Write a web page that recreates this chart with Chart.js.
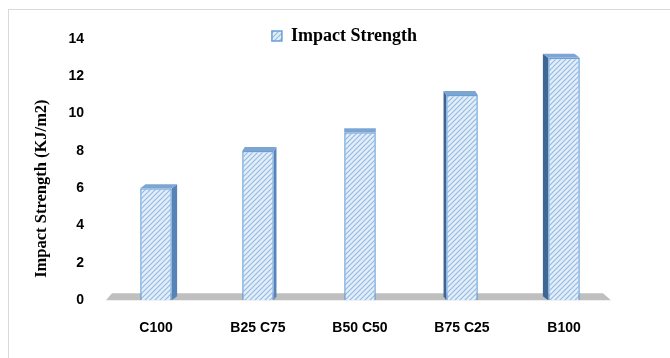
<!DOCTYPE html>
<html>
<head>
<meta charset="utf-8">
<script src="https://cdn.jsdelivr.net/npm/chart.js@4"></script>
<style>
  html, body { margin: 0; padding: 0; background: #fff; overflow: hidden; }
  #frame { position: absolute; left: 8px; top: 9px; width: 700px; height: 400px; border: 1px solid #d9d9d9; }
  #wrap { position: absolute; left: 0; top: 0; width: 670px; height: 358px; }
</style>
</head>
<body>
<div id="frame"></div>
<div id="wrap"><canvas id="c" width="670" height="358"></canvas></div>
<script>
// Mix designations and measured impact strength
const categories = ['C100', 'B25 C75', 'B50 C50', 'B75 C25', 'B100'];
const impactStrength = [6, 8, 9, 11, 13];
const yTicks = [0, 2, 4, 6, 8, 10, 12, 14];
const seriesName = 'Impact Strength';
const yTitle = 'Impact Strength (KJ/m2)';

// Diagonal hatch fill for the bar faces
function makeHatch() {
  const p = document.createElement('canvas');
  p.width = 5; p.height = 5;
  const g = p.getContext('2d');
  g.fillStyle = '#e4eef9';
  g.fillRect(0, 0, 5, 5);
  g.strokeStyle = '#93bbe4';
  g.lineWidth = 1.2;
  g.beginPath();
  g.moveTo(-1, 6); g.lineTo(6, -1);
  g.moveTo(-1, 1); g.lineTo(1, -1);
  g.moveTo(4, 6); g.lineTo(6, 4);
  g.stroke();
  return g.createPattern(p, 'repeat');
}
const hatch = makeHatch();

// Legend takes less room than its text, so the plot starts right below it
const legendTweak = {
  id: 'legendTweak',
  beforeLayout(chart) {
    const lg = chart.legend;
    if (lg && !lg._tight) {
      const fit = lg.fit.bind(lg);
      lg.fit = function () { fit(); this.height -= 15; };
      lg._tight = true;
    }
  },
  afterLayout(chart) {
    const lg = chart.legend;
    if (lg) {
      lg.left += 33; lg.right += 33;
      lg.top += 1; lg.height += 15; lg.bottom = lg.top + lg.height;
    }
  }
};

// Rotated value-axis title
const yTitlePlugin = {
  id: 'yTitle',
  afterDraw(chart) {
    const { ctx, chartArea } = chart;
    const cy = (chartArea.top + chartArea.bottom) / 2 + 19;
    ctx.save();
    ctx.translate(42, cy);
    ctx.rotate(-Math.PI / 2);
    ctx.fillStyle = '#000';
    ctx.font = 'bold 16.5px "Liberation Serif"';
    ctx.textAlign = 'center';
    ctx.textBaseline = 'middle';
    ctx.fillText(yTitle, 0, 0);
    ctx.restore();
  }
};

// Grey floor under the bars
const floorPlugin = {
  id: 'floor',
  beforeDatasetsDraw(chart) {
    const { ctx, chartArea } = chart;
    const y0 = chart.scales.y.getPixelForValue(0);
    ctx.save();
    ctx.fillStyle = '#bfbfbf';
    ctx.beginPath();
    ctx.moveTo(chartArea.left + 1, y0);
    ctx.lineTo(chartArea.right - 4, y0);
    ctx.lineTo(chartArea.right - 12, y0 - 7);
    ctx.lineTo(chartArea.left + 7, y0 - 7);
    ctx.closePath();
    ctx.fill();
    ctx.restore();
  }
};

// Depth faces (top and side) for each bar, leaning toward the centre
const depthPlugin = {
  id: 'depth',
  beforeDatasetsDraw(chart) {
    const { ctx, chartArea } = chart;
    const cx = (chartArea.left + chartArea.right) / 2;
    const meta = chart.getDatasetMeta(0);
    ctx.save();
    meta.data.forEach(bar => {
      const { x, y, base, width } = bar.getProps(['x', 'y', 'base', 'width'], true);
      const l = x - width / 2, r = x + width / 2;
      const dx = (cx - x) * 0.026;
      const dy = -4;
      if (Math.abs(dx) > 0.5) {
        const ex = dx > 0 ? r : l;
        ctx.fillStyle = dx > 0 ? '#5683b8' : '#3f6796';
        ctx.beginPath();
        ctx.moveTo(ex, y);
        ctx.lineTo(ex + dx, y + dy);
        ctx.lineTo(ex + dx, base + dy);
        ctx.lineTo(ex, base);
        ctx.closePath();
        ctx.fill();
      }
      ctx.fillStyle = '#7ca5d3';
      ctx.beginPath();
      ctx.moveTo(l, y);
      ctx.lineTo(r, y);
      ctx.lineTo(r + dx, y + dy);
      ctx.lineTo(l + dx, y + dy);
      ctx.closePath();
      ctx.fill();
    });
    ctx.restore();
  }
};

new Chart(document.getElementById('c'), {
  type: 'bar',
  data: {
    labels: categories,
    datasets: [{
      label: seriesName,
      data: impactStrength,
      backgroundColor: hatch,
      borderColor: '#6a9fd6',
      borderWidth: 1.5,
      barPercentage: 0.62,
      categoryPercentage: 0.5
    }]
  },
  options: {
    responsive: false,
    animation: false,
    layout: { padding: { left: 8, right: 55, top: 22, bottom: 1 } },
    plugins: {
      legend: {
        position: 'top',
        labels: {
          boxWidth: 10, boxHeight: 10, padding: 4,
          color: '#000',
          font: { family: 'Liberation Serif', weight: 'bold', size: 18 }
        }
      },
      tooltip: { enabled: false }
    },
    scales: {
      x: {
        grid: { display: false, drawTicks: false },
        border: { display: false },
        ticks: {
          color: '#000', padding: 20,
          font: { family: 'Liberation Sans', weight: 'bold', size: 14 }
        }
      },
      y: {
        min: 0, max: 14,
        afterBuildTicks(scale) { scale.ticks = yTicks.map(v => ({ value: v })); },
        afterFit(scale) { scale.width = 97; },
        grid: { display: false, drawTicks: false },
        border: { display: false },
        ticks: {
          color: '#000', padding: 21,
          font: { family: 'Liberation Sans', weight: 'bold', size: 14 }
        }
      }
    }
  },
  plugins: [legendTweak, yTitlePlugin, floorPlugin, depthPlugin]
});
</script>
</body>
</html>
